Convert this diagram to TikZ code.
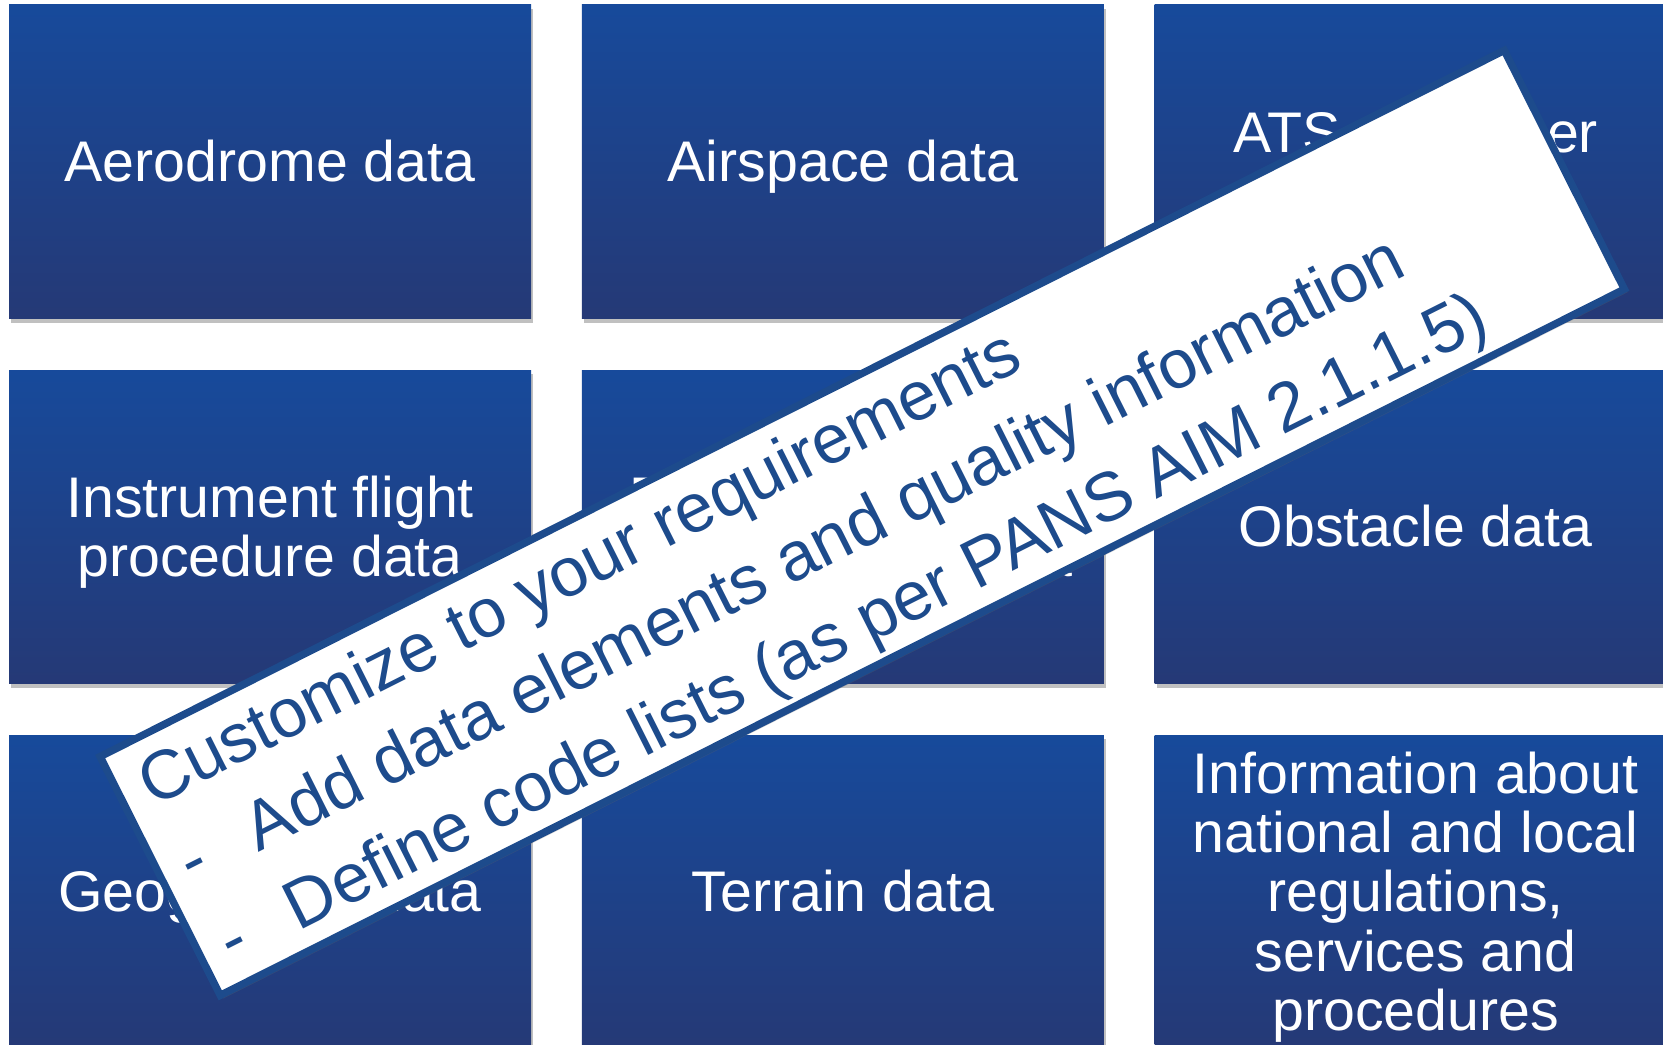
\documentclass[tikz,border=0pt]{standalone}
\usepackage{fontspec}
\setmainfont{Liberation Sans}
\usetikzlibrary{shadows}
\definecolor{boxtop}{RGB}{23,74,155}
\definecolor{boxbot}{RGB}{37,57,118}
\definecolor{banblue}{RGB}{29,75,140}
\newcommand\kstrtop{\rule{0pt}{48.9pt}}
\newcommand\kstrbot{\rule[-11.4pt]{0pt}{11.4pt}}
\tikzset{
  databox/.style={minimum width=492pt,minimum height=296pt,inner sep=0pt,
    top color=boxtop,bottom color=boxbot,text=white,align=center,
    font=\fontsize{54}{56}\selectfont,
    drop shadow={shadow xshift=2pt,shadow yshift=-4pt,opacity=0.45,fill=black!55}},
  banner/.style={minimum width=1482pt,minimum height=252pt,inner sep=0pt,
    fill=white,draw=banblue,line width=7pt,
    drop shadow={shadow xshift=3pt,shadow yshift=-3pt,opacity=0.3,fill=black!60}},
  bantxt/.style={text=banblue,inner sep=0pt,anchor=base west,
    font=\fontsize{65}{80}\selectfont}
}
\begin{document}
\begin{tikzpicture}[x=1pt,y=1pt]
\pgfmathsetmacro{\kcx}{540}
\pgfmathsetmacro{\kry}{344.2}
\pgfmathsetmacro{\klnsep}{83}
\useasboundingbox (0,0) rectangle (1568,-985);
\foreach \kx/\ky/\knm/\klb in {0/0/aero/{Aerodrome data},1/0/airsp/{Airspace data},2/0/ats/{ATS and other\\routes data},0/1/ifp/{Instrument flight\\procedure data},1/1/radio/{Radio navigation\\aids/systems data},2/1/obst/{Obstacle data},0/2/geo/{Geographic data},1/2/terr/{Terrain data},2/2/info/{Information about\\national and local\\regulations,\\services and\\procedures}}{\node[databox] (\knm) at ({254.7+\kx*\kcx},{-152.7-\ky*\kry}) {\kstrtop\klb\kstrbot};}
%tilted note on top
\begin{scope}[shift={(813,-493)},rotate=26.7,transform shape]
\node[banner] (cust) at (0,0) {};
\node[bantxt] (head) at (-718,61) {Customize to your requirements};
\foreach \ky/\ylb in {1/{Add data elements and quality information},2/{Define code lists (as per PANS AIM 2.1.1.5)}}{\node[bantxt] (dash\ky) at (-718,61-\ky*\klnsep) {-};
\node[bantxt] (item\ky) at (-648,61-\ky*\klnsep) {\ylb};}
\end{scope}
\end{tikzpicture}
\end{document}
